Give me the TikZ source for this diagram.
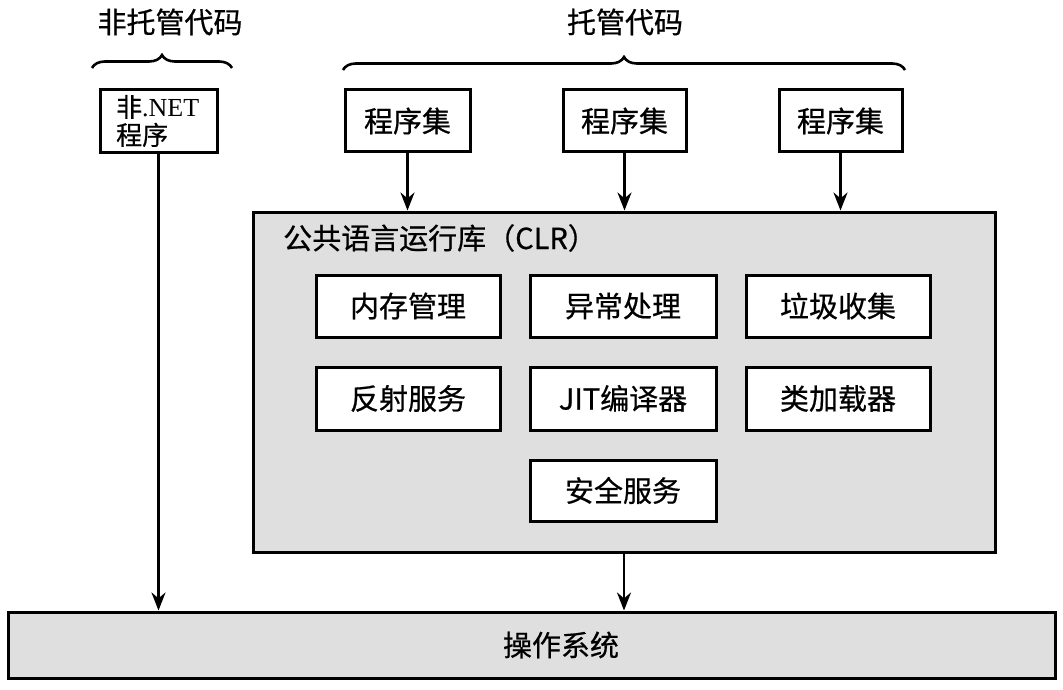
\documentclass[tikz,border=0pt]{standalone}
\usepackage{fontspec}
\setmainfont{Liberation Serif}
\newfontfamily\cjk[FakeBold=0.6]{Noto Sans CJK SC}
\usetikzlibrary{arrows.meta,decorations.pathreplacing}
\begin{document}
\begin{tikzpicture}[x=1pt,y=-1pt,
  box/.style={draw, line width=3pt, fill=white, inner sep=0pt,
    font=\cjk\fontsize{29}{32}\selectfont},
  panel/.style={draw, line width=3pt, fill=gray!25},
  title/.style={font=\cjk\fontsize{29}{32}\selectfont, inner sep=0pt},
  arr/.style={line width=2.6pt, -{Stealth[length=18pt,width=14pt]}},
  brc/.style={line width=2.6pt, decorate, decoration={brace, amplitude=13pt}}]
\useasboundingbox (0,0) rectangle (1063,690);

% titles and braces
\node[title] (tu) at (170,22) {非托管代码};
\node[title] (tm) at (625,22) {托管代码};
\draw[brc] (92,68) -- (232,68);
\draw[brc] (343,70) -- (905,70);

% top boxes
\node[box, minimum width=117pt, minimum height=63pt] (net) at (158.5,121.5) {};
\node[anchor=west, align=left, inner sep=0pt, font=\fontsize{26}{28}\selectfont] (nettext) at (116,121)
  {{\cjk 非}.NET\\{\cjk 程序}};
\node[box, minimum width=125pt, minimum height=62pt] (a1) at (407.5,121) {程序集};
\node[box, minimum width=123pt, minimum height=62pt] (a2) at (624.5,121) {程序集};
\node[box, minimum width=123pt, minimum height=62pt] (a3) at (840.5,121) {程序集};

% CLR panel
\node[panel, minimum width=742pt, minimum height=340pt] (clr) at (624,382) {};
\node[title, anchor=west] (clrlab) at (283,238) {公共语言运行库（CLR）};

\node[box, minimum width=184pt, minimum height=62pt] (mem) at (408,306) {内存管理};
\node[box, minimum width=186pt, minimum height=62pt] (exc) at (623,306) {异常处理};
\node[box, minimum width=184pt, minimum height=62pt] (gc)  at (838,306) {垃圾收集};
\node[box, minimum width=184pt, minimum height=63pt] (ref) at (408,398.5) {反射服务};
\node[box, minimum width=186pt, minimum height=63pt] (jit) at (623,398.5) {JIT编译器};
\node[box, minimum width=184pt, minimum height=63pt] (cl)  at (838,398.5) {类加载器};
\node[box, minimum width=186pt, minimum height=61pt] (sec) at (623,490.5) {安全服务};

% OS
\node[panel, minimum width=1047pt, minimum height=66pt] (os) at (531.5,645) {};
\node[title] (ostext) at (561,645) {操作系统};

% connectors
\draw[arr] (net.south) -- (net.south |- os.north);
\draw[arr] (a1.south) -- (a1.south |- clr.north);
\draw[arr] (a2.south) -- (a2.south |- clr.north);
\draw[arr] (a3.south) -- (a3.south |- clr.north);
\draw[arr] (clr.south) -- (clr.south |- os.north);
\end{tikzpicture}
\end{document}
